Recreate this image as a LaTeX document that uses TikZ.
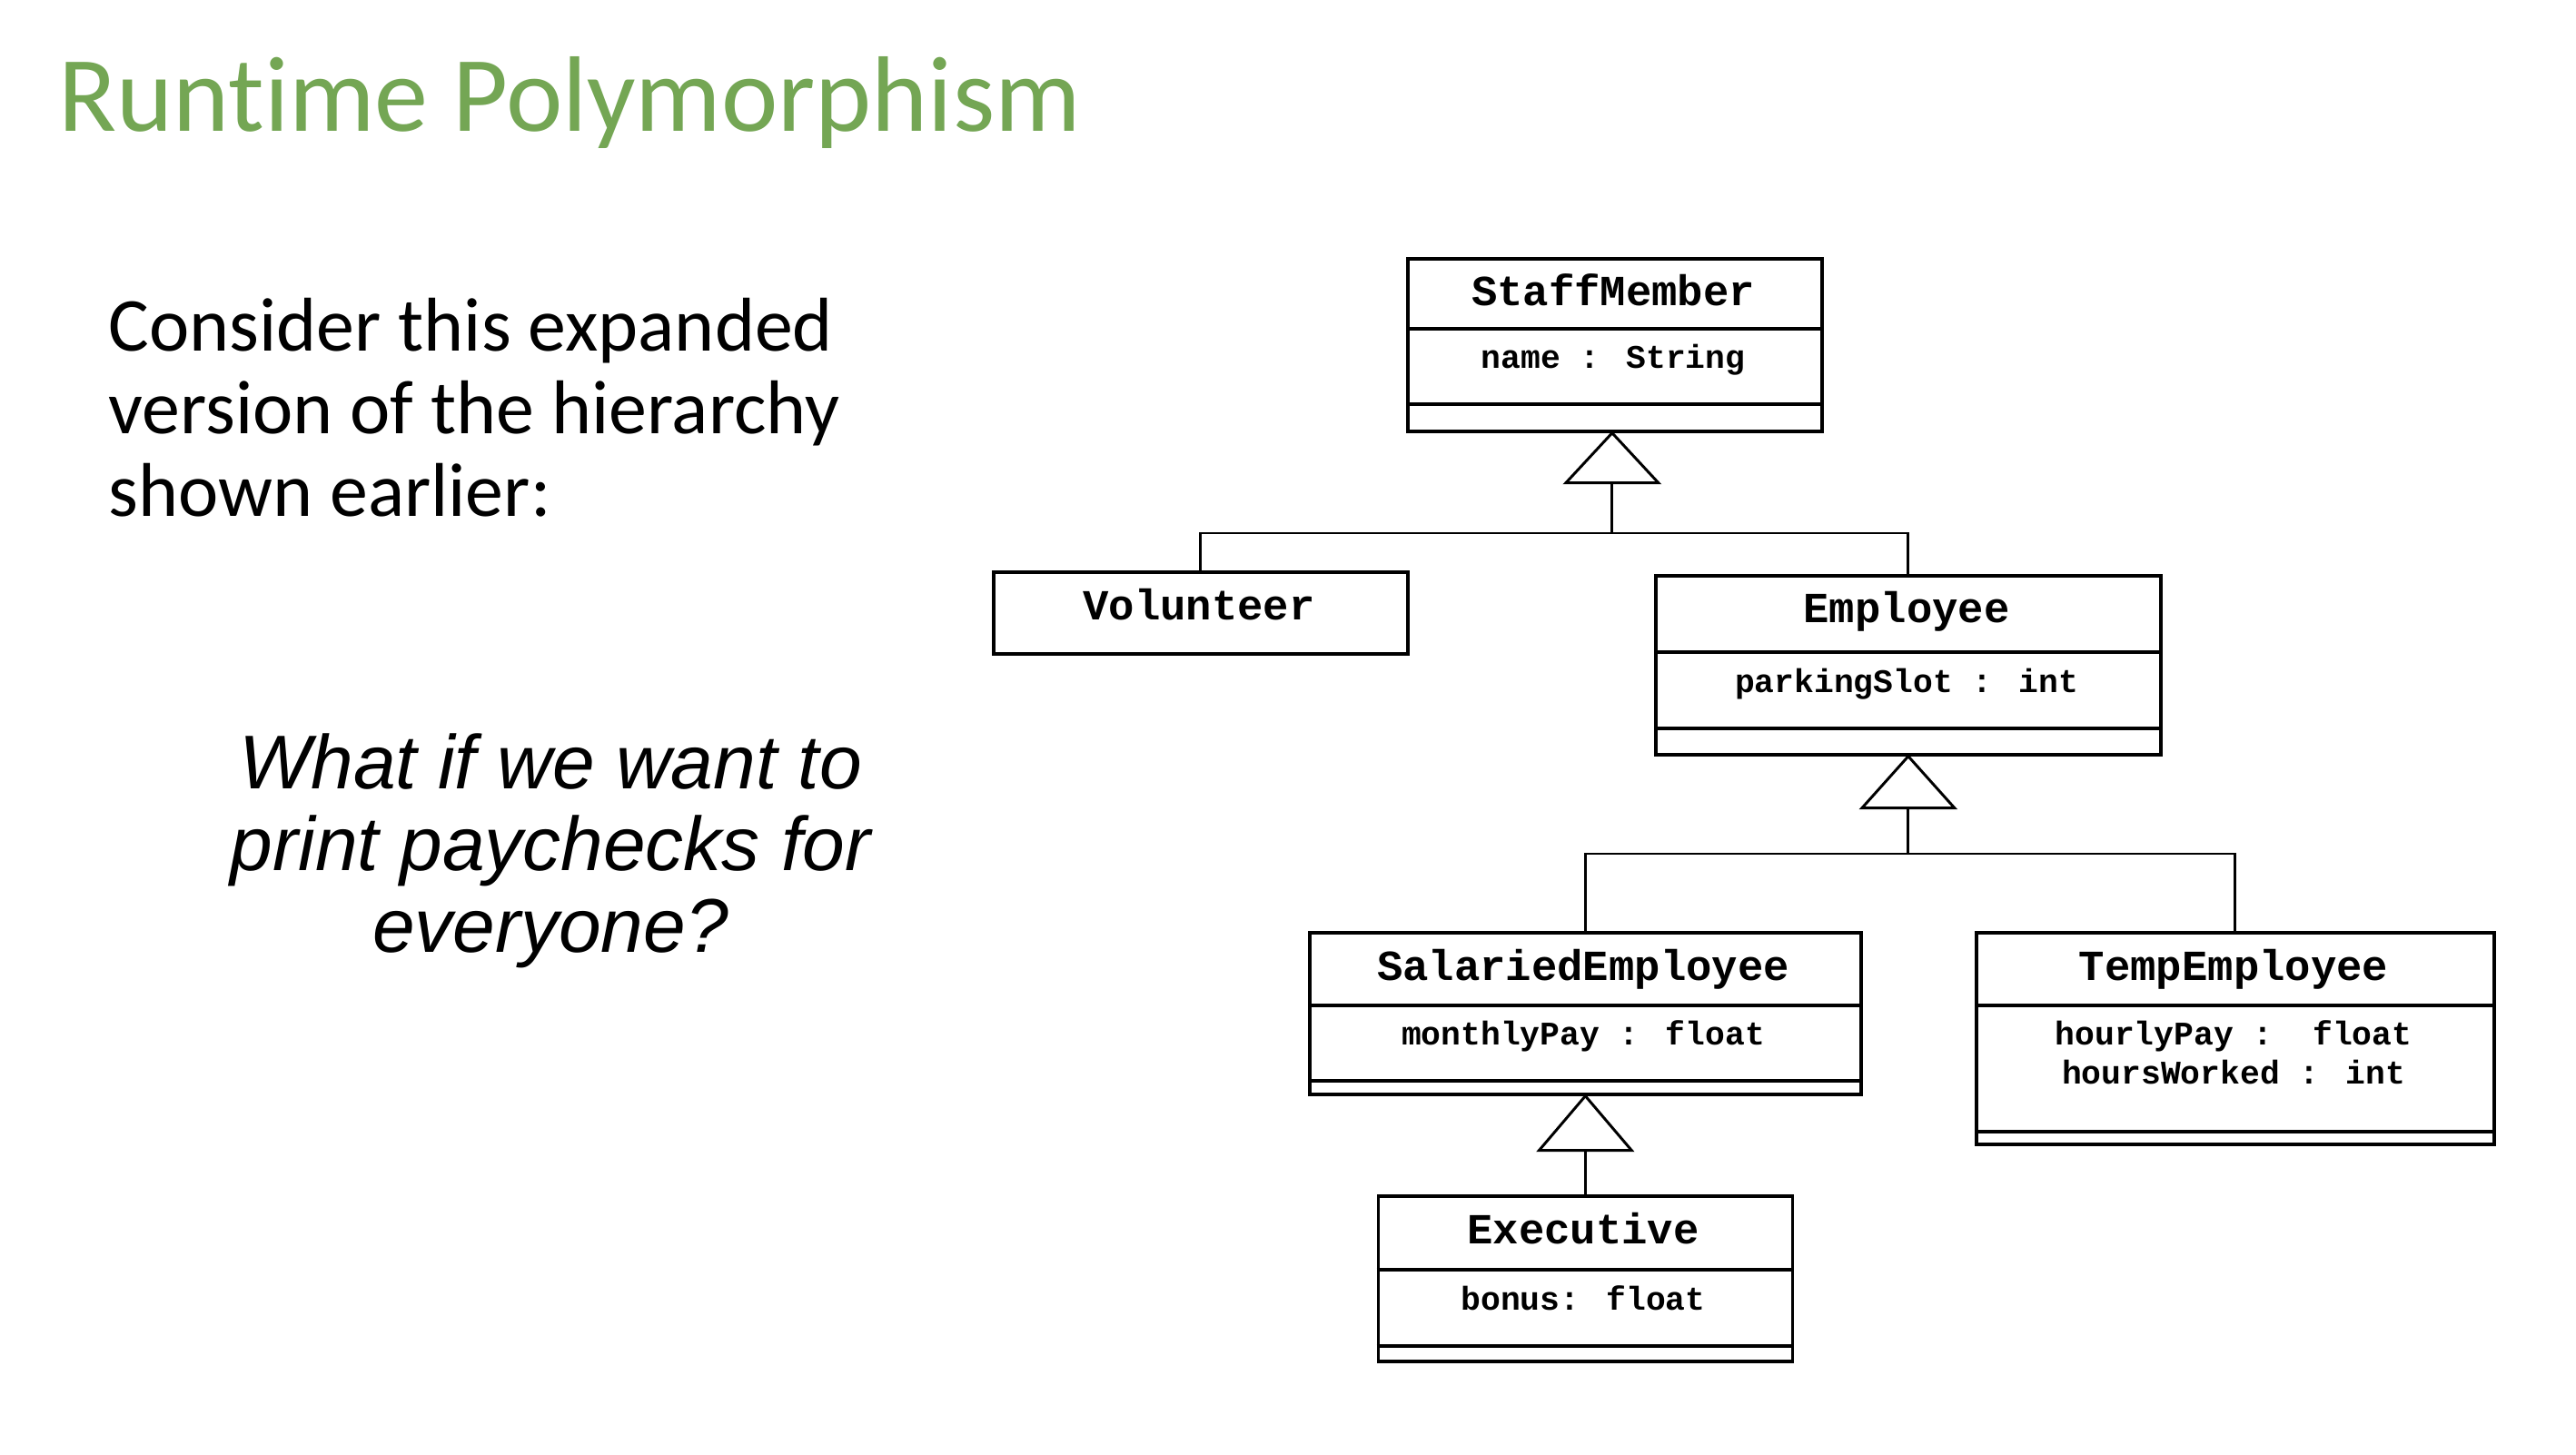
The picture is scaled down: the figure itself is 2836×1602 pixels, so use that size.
\documentclass[tikz,border=0pt]{standalone}
\usepackage{fontspec}
\setmainfont{Carlito}[Ligatures=NoCommon]
\newfontfamily\qfont{Liberation Sans}
\newfontfamily\umlfont{Liberation Mono}
\usetikzlibrary{calc}
\definecolor{titlegreen}{RGB}{116,166,84}
\def\u{0.338505pt}
\begin{document}
\begin{tikzpicture}[x=\u, y=-\u,
  umlbox/.style={draw, line width=1.25pt, inner sep=0, anchor=north west},
  divider/.style={line width=1.25pt},
  conn/.style={line width=1pt},
  umltitle/.style={font=\umlfont\bfseries\fontsize{16}{18}\selectfont, inner sep=0, anchor=base},
  umlattr/.style={font=\umlfont\bfseries\fontsize{12.3}{14}\selectfont, inner sep=0, anchor=base},
  bodytext/.style={font=\fontsize{28.4}{31}\selectfont, inner sep=0, anchor=base west},
  question/.style={font=\qfont\itshape\fontsize{28.4}{31}\selectfont, inner sep=0, anchor=base}]

% canvas
\fill[white] (0,0) rectangle (2836,1602);
\useasboundingbox (0,0) rectangle (2836,1602);

% heading and side text
\node[font=\fontsize{40}{48}\selectfont, text=titlegreen, inner sep=0, anchor=base west] (title) at (64,145) {Runtime Polymorphism};

\node[bodytext] (c1) at (119,387) {Consider this expanded};
\node[bodytext] (c2) at (119,478) {version of the hierarchy};
\node[bodytext] (c3) at (119,569) {shown earlier:};

\node[question] (q1) at (606,868) {What if we want to};
\node[question] (q2) at (606,958) {print paychecks for};
\node[question] (q3) at (606,1048) {everyone?};

% class boxes
\node[umlbox, minimum width=456*\u, minimum height=190*\u] (staff) at (1548,283) {};
\node[umlbox, minimum width=456*\u, minimum height=90*\u]  (vol)   at (1092,628) {};
\node[umlbox, minimum width=556*\u, minimum height=197*\u] (emp)   at (1821,632) {};
\node[umlbox, minimum width=607*\u, minimum height=178*\u] (sal)   at (1440,1025) {};
\node[umlbox, minimum width=456*\u, minimum height=182*\u] (exe)   at (1515.5,1315) {};
\node[umlbox, minimum width=570*\u, minimum height=233*\u] (temp)  at (2174,1025) {};

% compartment lines
\draw[divider] (staff.west |- 0,362) -- (staff.east |- 0,362);
\draw[divider] (staff.west |- 0,445) -- (staff.east |- 0,445);
\draw[divider] (emp.west |- 0,718) -- (emp.east |- 0,718);
\draw[divider] (emp.west |- 0,802) -- (emp.east |- 0,802);
\draw[divider] (sal.west |- 0,1107) -- (sal.east |- 0,1107);
\draw[divider] (sal.west |- 0,1190) -- (sal.east |- 0,1190);
\draw[divider] (exe.west |- 0,1398) -- (exe.east |- 0,1398);
\draw[divider] (exe.west |- 0,1482) -- (exe.east |- 0,1482);
\draw[divider] (temp.west |- 0,1107) -- (temp.east |- 0,1107);
\draw[divider] (temp.west |- 0,1246) -- (temp.east |- 0,1246);

% class names and attributes
\node[umltitle] (staffname) at (1776,337) {StaffMember};
\node[umlattr]  (staffattr) at (1776,406) {name : String};
\node[umltitle] (volname)   at (1320,682) {Volunteer};
\node[umltitle] (empname)   at (2099,685) {Employee};
\node[umlattr]  (empattr)   at (2099,762) {parkingSlot : int};
\node[umltitle] (salname)   at (1743,1079) {SalariedEmployee};
\node[umlattr]  (salattr)   at (1743,1150) {monthlyPay : float};
\node[umltitle] (exename)   at (1743,1369) {Executive};
\node[umlattr]  (exeattr)   at (1743,1442) {bonus: float};
\node[umltitle] (tempname)  at (2459,1079) {TempEmployee};
\node[umlattr]  (tempattra) at (2459,1150) {hourlyPay :\ \ float};
\node[umlattr]  (tempattrb) at (2459,1193) {hoursWorked : int};

% generalisation: StaffMember <- Volunteer, Employee
\coordinate (t1) at ($(staff.south)+(-3,55)$);
\draw[conn] ($(staff.south)+(-3,0)$) -- ($(t1)+(-51,0)$) -- ($(t1)+(51,0)$) -- cycle;
\draw[conn] (t1) -- (t1 |- 0,587);
\draw[conn] (vol.north) -- (vol.north |- 0,587) -- (emp.north |- 0,587) -- (emp.north);

% generalisation: Employee <- SalariedEmployee, TempEmployee
\coordinate (t2) at ($(emp.south)+(0,57)$);
\draw[conn] (emp.south) -- ($(t2)+(-51,0)$) -- ($(t2)+(51,0)$) -- cycle;
\draw[conn] (t2) -- (t2 |- 0,940);
\draw[conn] (sal.north) -- (sal.north |- 0,940) -- (temp.north |- 0,940) -- (temp.north);

% generalisation: SalariedEmployee <- Executive
\coordinate (t3) at ($(sal.south)+(0,60)$);
\draw[conn] (sal.south) -- ($(t3)+(-51,0)$) -- ($(t3)+(51,0)$) -- cycle;
\draw[conn] (t3) -- (exe.north);

\end{tikzpicture}
\end{document}
